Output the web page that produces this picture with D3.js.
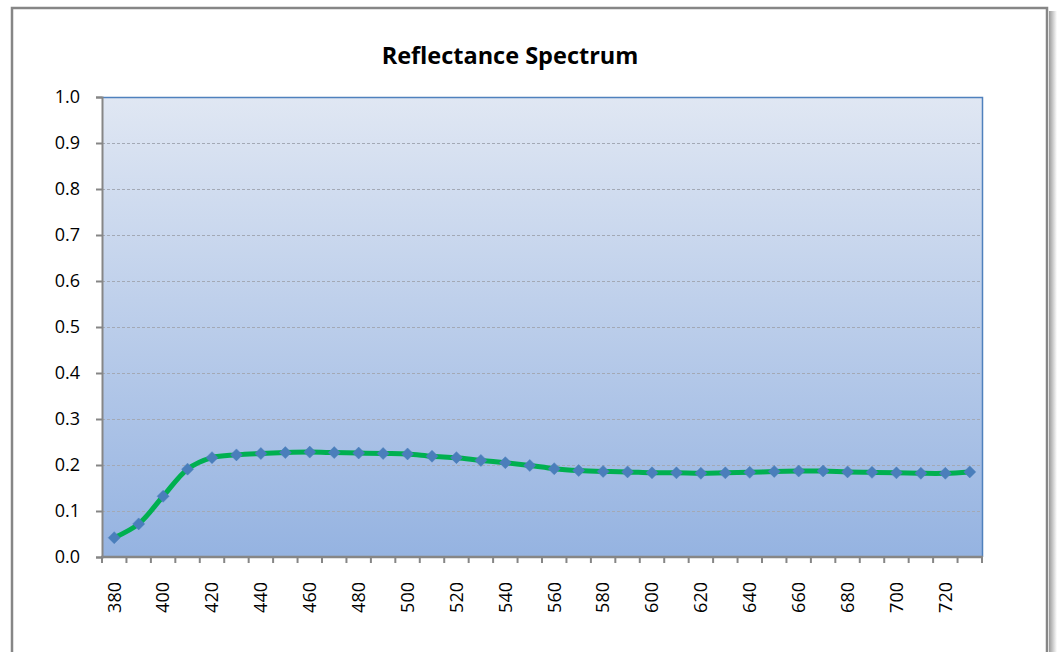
<!DOCTYPE html>
<html>
<head>
<meta charset="utf-8">
<script src="https://cdn.jsdelivr.net/npm/d3@7"></script>
<style>
  body { margin: 0; background: #fff; }
  svg { display: block; }
</style>
</head>
<body>
<svg id="chart" width="1057" height="652"></svg>
<script>
// wavelengths (nm) and reflectance
var wavelengths = [380, 390, 400, 410, 420, 430, 440, 450, 460, 470, 480, 490,
	500, 510, 520, 530, 540, 550, 560, 570, 580, 590, 600, 610, 620, 630,
	640, 650, 660, 670, 680, 690, 700, 710, 720, 730];
var reflectance = [0.042, 0.072, 0.132, 0.191, 0.216, 0.222, 0.225, 0.227, 0.228, 0.227,
	0.226, 0.225, 0.224, 0.219, 0.216, 0.210, 0.205, 0.199, 0.192, 0.188, 0.186, 0.185,
	0.183, 0.183, 0.182, 0.183, 0.184, 0.186, 0.187, 0.187, 0.185, 0.184, 0.183, 0.182,
	0.182, 0.185];
var yTicks = [0, 0.1, 0.2, 0.3, 0.4, 0.5, 0.6, 0.7, 0.8, 0.9, 1.0];
var xLabels = [380, 400, 420, 440, 460, 480, 500, 520, 540, 560, 580, 600, 620, 640, 660, 680, 700, 720];

var svg = d3.select("#chart");
var plotLeft = 102, plotRight = 982, plotTop = 97, plotBottom = 557;
var axisColor = "#868686";
var font = "'Open Sans', sans-serif";

var data = wavelengths.map(function(w, i) { return {w: w, v: reflectance[i]}; });

var x = d3.scaleBand().domain(wavelengths).range([plotLeft, plotRight]);
var y = d3.scaleLinear().domain([0, 1]).range([plotBottom, plotTop]);
function cx(w) { return x(w) + x.bandwidth() / 2; }

var defs = svg.append("defs");
var grad = defs.append("linearGradient").attr("id", "bg")
	.attr("x1", 0).attr("y1", 0).attr("x2", 0).attr("y2", 1);
grad.append("stop").attr("offset", "0%").attr("stop-color", "#e0e7f3");
grad.append("stop").attr("offset", "100%").attr("stop-color", "#95b3e1");

var shadow = defs.append("linearGradient").attr("id", "shadow")
	.attr("x1", 0).attr("y1", 0).attr("x2", 1).attr("y2", 0);
shadow.append("stop").attr("offset", "0%").attr("stop-color", "#9a9a9a");
shadow.append("stop").attr("offset", "100%").attr("stop-color", "#ffffff");

// outer chart frame with shadow on the right
svg.append("rect").attr("x", 1049).attr("y", 11).attr("width", 8).attr("height", 660)
	.style("fill", "url(#shadow)");
svg.append("rect").attr("x", 12).attr("y", 8).attr("width", 1035).attr("height", 660)
	.style("fill", "#fff").style("stroke", axisColor).style("stroke-width", 2.5);

// title
svg.append("text")
	.attr("x", 510).attr("y", 64)
	.attr("text-anchor", "middle")
	.style("font-family", font)
	.style("font-weight", "bold")
	.style("font-size", "23.5px")
	.text("Reflectance Spectrum");

// plot area
svg.append("rect")
	.attr("x", plotLeft).attr("y", plotTop)
	.attr("width", plotRight - plotLeft).attr("height", plotBottom - plotTop)
	.style("fill", "url(#bg)");

// gridlines
svg.append("g").selectAll("line")
	.data(yTicks.filter(function(d) { return d > 0 && d < 1; }))
	.enter().append("line")
	.attr("x1", plotLeft).attr("x2", plotRight)
	.attr("y1", function(d) { return y(d) + 0.5; })
	.attr("y2", function(d) { return y(d) + 0.5; })
	.style("stroke", "#a3a9b5")
	.style("stroke-width", 1)
	.style("stroke-dasharray", "3,2");

// top and right border of plot area
svg.append("path")
	.attr("d", "M" + plotLeft + "," + (plotTop + 0.5) + "H" + (plotRight + 0.5) + "V" + plotBottom)
	.style("fill", "none").style("stroke", "#4f81bd").style("stroke-width", 1.5);

// y axis
var yAxis = svg.append("g")
	.attr("transform", "translate(" + plotLeft + ",0)")
	.call(d3.axisLeft(y).tickValues(yTicks).tickSize(6).tickPadding(16)
		.tickFormat(d3.format(".1f")));
yAxis.select(".domain").style("stroke", axisColor).style("stroke-width", 2);
yAxis.selectAll(".tick line").style("stroke", axisColor).style("stroke-width", 2);
yAxis.selectAll("text")
	.style("font-family", font)
	.style("font-size", "18px")
	.style("fill", "#000");

// x axis: ticks at band boundaries
var xAxisG = svg.append("g").attr("class", "xaxis");
xAxisG.selectAll("line")
	.data(wavelengths.concat([null]))
	.enter().append("line")
	.attr("x1", function(d, i) { return plotLeft + i * x.bandwidth(); })
	.attr("x2", function(d, i) { return plotLeft + i * x.bandwidth(); })
	.attr("y1", plotBottom).attr("y2", plotBottom + 6)
	.style("stroke", axisColor).style("stroke-width", 2);
xAxisG.append("line")
	.attr("x1", plotLeft - 1).attr("x2", plotRight + 1)
	.attr("y1", plotBottom).attr("y2", plotBottom)
	.style("stroke", axisColor).style("stroke-width", 2.5);

xAxisG.selectAll("text")
	.data(xLabels)
	.enter().append("text")
	.attr("transform", function(d) {
		return "translate(" + cx(d) + "," + (plotBottom + 25) + ") rotate(-90)";
	})
	.attr("dy", "0.35em")
	.attr("text-anchor", "end")
	.style("font-family", font)
	.style("font-size", "18px")
	.text(function(d) { return d; });

// series line
var line = d3.line()
	.x(function(d) { return cx(d.w); })
	.y(function(d) { return y(d.v); })
	.curve(d3.curveCatmullRom.alpha(0.5));

svg.append("path")
	.datum(data)
	.attr("d", line)
	.style("fill", "none")
	.style("stroke", "#00b050")
	.style("stroke-width", 5)
	.style("stroke-linejoin", "round");

// diamond markers
svg.append("g").selectAll("path")
	.data(data)
	.enter().append("path")
	.attr("transform", function(d) {
		return "translate(" + cx(d.w) + "," + y(d.v) + ")";
	})
	.attr("d", "M0,-6L6,0L0,6L-6,0Z")
	.style("fill", "#4a7ebb")
	.style("stroke", "#4a7ebb")
	.style("stroke-width", 0.5);
</script>
</body>
</html>
